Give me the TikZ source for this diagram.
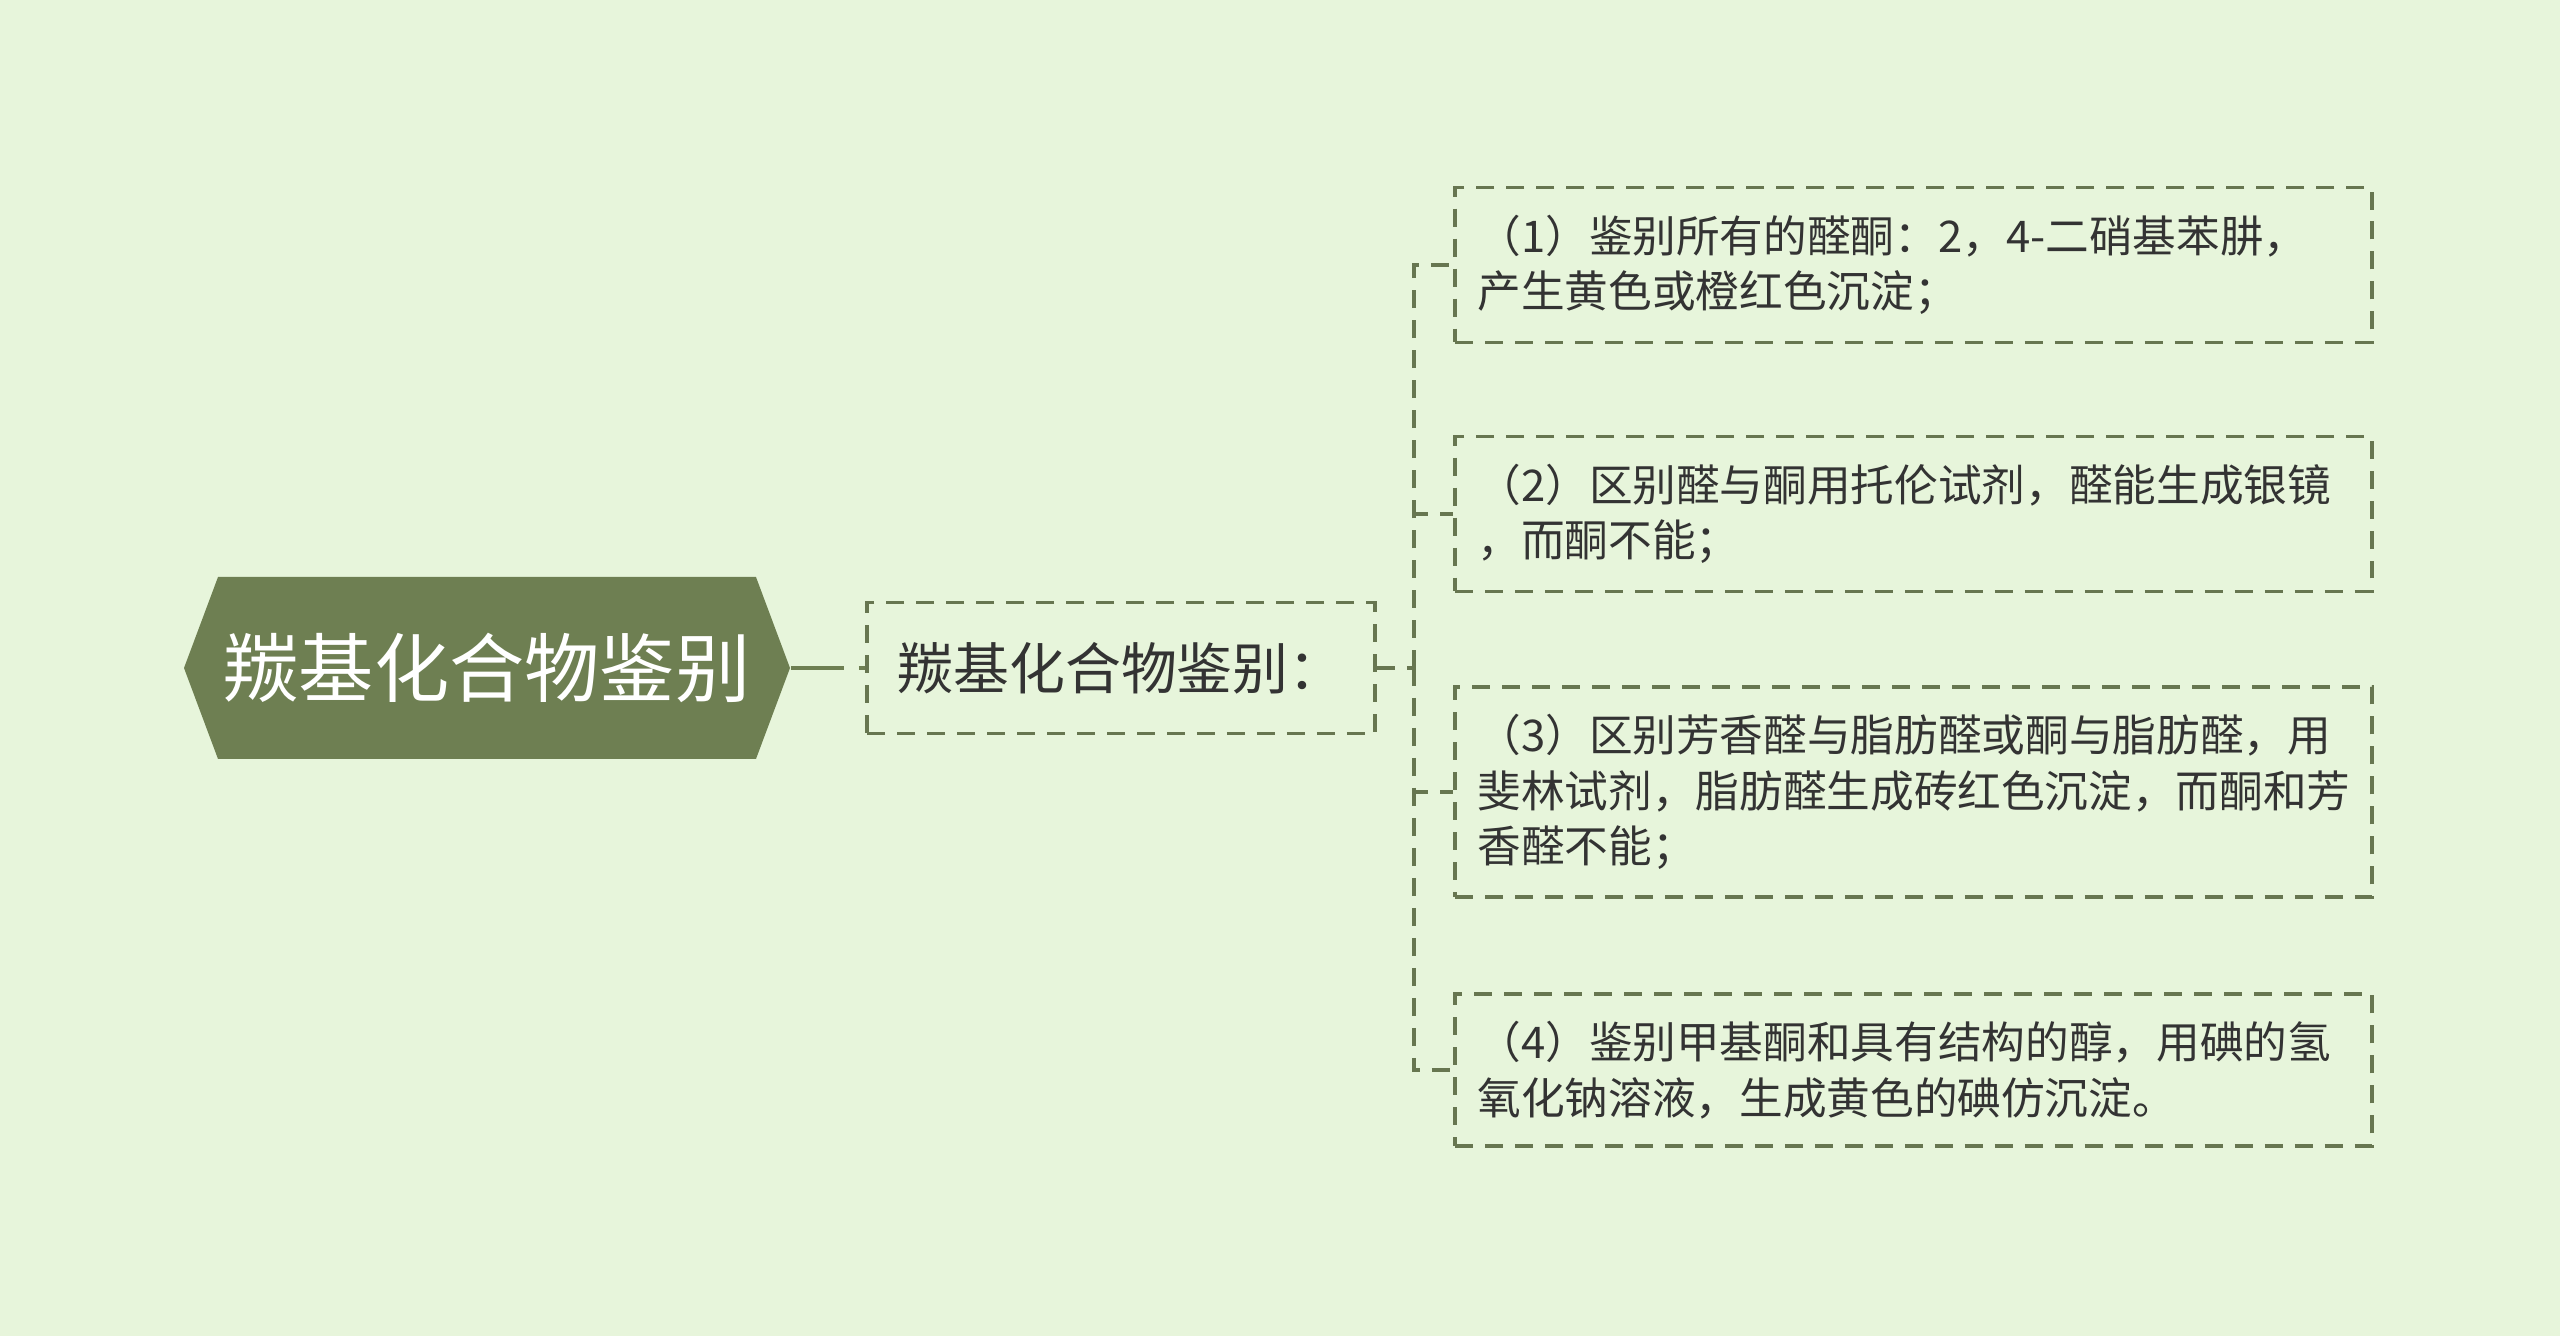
\documentclass[tikz,border=0pt]{standalone}
\usepackage{fontspec}
\usepackage{tikz}
\usetikzlibrary{shapes.symbols}
\newfontfamily\cjk{Noto Sans CJK SC}
\definecolor{bgcol}{HTML}{E7F5DB}
\definecolor{rootcol}{HTML}{6E7F52}
\definecolor{linecol}{HTML}{677650}
\definecolor{txtcol}{HTML}{333333}
\tikzset{
  dashline/.style={linecol,line width=0.036cm,dash pattern=on 0.18cm off 0.12cm},
  leafbox/.style={dashline,text=txtcol,align=left,text width=8.72cm,inner xsep=0.225cm,inner ysep=0.275cm,
    font=\cjk\fontsize{12.42pt}{15.8pt}\selectfont}
}
\begin{document}
\begin{tikzpicture}
            \fill[bgcol] (0,0) rectangle (25.6,13.36);
            \useasboundingbox (0,0) rectangle (25.6,13.36);
            \node[shape=signal,signal to=west and east,signal pointer angle=139,fill=rootcol,text=white,
              minimum width=6.06cm,minimum height=1.82cm,inner sep=0pt,font=\cjk\fontsize{21.4pt}{26pt}\selectfont]
              (root) at (4.87,6.68) {羰基化合物鉴别};
            \node[dashline,draw,text=txtcol,minimum width=5.08cm,minimum height=1.31cm,inner sep=0pt,
              font=\cjk\fontsize{15.9pt}{19pt}\selectfont] (sub) at (11.21,6.68) {羰基化合物鉴别：};
            \node[leafbox,draw] (way1) at (19.135,10.71) {（1）鉴别所有的醛酮：2，4-二硝基苯肼，\\产生黄色或橙红色沉淀；};
            \node[leafbox,draw] (way2) at (19.135,8.22) {（2）区别醛与酮用托伦试剂，醛能生成银镜\\，而酮不能；};
            \node[leafbox,draw] (way3) at (19.135,5.44) {（3）区别芳香醛与脂肪醛或酮与脂肪醛，用\\斐林试剂，脂肪醛生成砖红色沉淀，而酮和芳\\香醛不能；};
            \node[leafbox,draw] (way4) at (19.135,2.66) {（4）鉴别甲基酮和具有结构的醇，用碘的氢\\氧化钠溶液，生成黄色的碘仿沉淀。};
            \coordinate (fork) at (14.14,6.68);
            \draw[rootcol,line width=0.045cm,dash pattern=on 0.53cm off 0.15cm on 0.2cm] (root.east) -- (sub.west);
            \draw[dashline] (sub.east) -- (fork);
            \draw[dashline] (fork) |- (way1.west);
            \draw[dashline] (fork) |- (way2.west);
            \draw[dashline] (fork) |- (way3.west);
            \draw[dashline] (fork) |- (way4.west);
        \end{tikzpicture}
\end{document}
